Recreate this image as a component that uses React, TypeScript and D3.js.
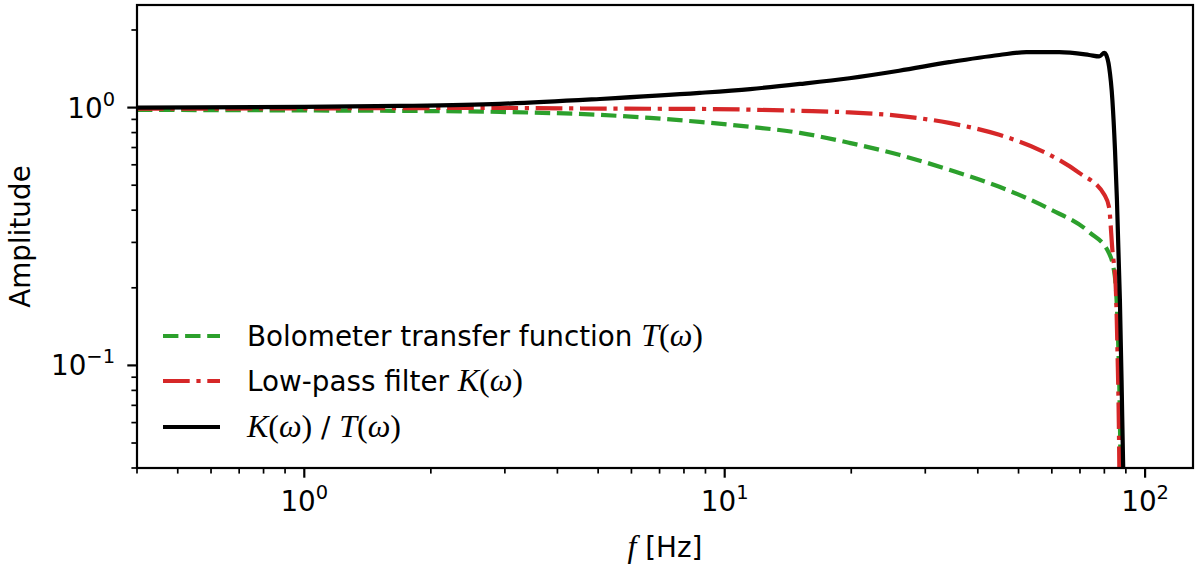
import * as d3 from "d3";
import * as React from "react";

// values (frequency in Hz, amplitude)
const freqT = [0.4, 1, 1.69, 2.92, 5.05, 6.64, 8.72, 11.5, 15.1, 19.8, 26.0, 34.2, 45.0, 59.1, 73.6, 82.1, 83.6, 85.2, 86.2, 87.0, 87.6];
const ampT = [0.98, 0.975, 0.971, 0.962, 0.937, 0.912, 0.88, 0.842, 0.798, 0.73, 0.656, 0.574, 0.493, 0.405, 0.329, 0.272, 0.25, 0.2, 0.13, 0.07, 0.03];

const freqK = [0.4, 1, 2.92, 5.05, 8.72, 15.1, 19.8, 26.0, 34.2, 45.0, 56.0, 69.7, 80.0, 82.1, 83.6, 85.2, 86.0, 86.6, 87.0];
const ampK = [0.99, 0.993, 0.997, 0.991, 0.988, 0.971, 0.958, 0.929, 0.872, 0.784, 0.686, 0.558, 0.459, 0.41, 0.28, 0.197, 0.11, 0.06, 0.03];

const freqR = [0.4, 1, 1.69, 2.92, 5.05, 8.72, 11.5, 15.1, 19.8, 26.0, 34.2, 45.0, 52.2, 62.5, 73.6, 77.8, 80.0, 80.8, 82.1, 83.6, 84.8, 85.7, 87.1, 87.9, 88.7, 89.2];
const ampR = [1.0, 1.006, 1.015, 1.034, 1.08, 1.14, 1.18, 1.235, 1.3, 1.39, 1.5, 1.6, 1.64, 1.64, 1.6, 1.58, 1.63, 1.6, 1.44, 1.07, 0.686, 0.44, 0.18, 0.088, 0.04, 0.03];

const xMajor = [1, 10, 100];
const xMinor = [0.4, 0.5, 0.6, 0.7, 0.8, 0.9, 2, 3, 4, 5, 6, 7, 8, 9, 20, 30, 40, 50, 60, 70, 80, 90];
const yMajor = [0.1, 1];
const yMinor = [0.04, 0.05, 0.06, 0.07, 0.08, 0.09, 0.2, 0.3, 0.4, 0.5, 0.6, 0.7, 0.8, 0.9, 2];
const xExp = ["0", "1", "2"];
const yExp = ["\u22121", "0"];

const legendLabels = ["Bolometer transfer function ", "Low-pass filter ", ""];

const width = 1200;
const height = 567;
const left = 137;
const right = 1193;
const top = 5;
const bottom = 468;

const sans = "DejaVu Sans";
const serif = "Liberation Serif";
const fs = 27.8;
const mfs = 32;

export default function App() {
  const x = d3.scaleLog([0.4, 130], [left, right]);
  const y = d3.scaleLog([0.04, 2.5], [bottom, top]);

  const line = (fr: number[], am: number[]) =>
    d3
      .line<number>()
      .x((_, i) => x(fr[i]))
      .y((d) => y(d))
      .curve(d3.curveMonotoneX)(am) ?? "";

  const series = [
    { d: line(freqT, ampT), color: "#2ca02c", dash: "15.4 6.7" },
    { d: line(freqK, ampK), color: "#d62728", dash: "26.7 6.7 4.2 6.7" },
    { d: line(freqR, ampR), color: "#000000", dash: "none" },
  ];

  const legendY = [336, 381, 427];

  const math = (v: string) => (
    <>
      <tspan fontFamily={serif} fontSize={mfs} fontStyle="italic">{v}</tspan>
      <tspan fontFamily={serif} fontSize={mfs}>(</tspan>
      <tspan fontFamily={serif} fontSize={mfs} fontStyle="italic">ω</tspan>
      <tspan fontFamily={serif} fontSize={mfs}>)</tspan>
    </>
  );

  return (
    <svg
      width={width}
      height={height}
      viewBox={`0 0 ${width} ${height}`}
      style={{ position: "absolute", left: 0, top: 0, background: "#fff" }}
      fontFamily={sans}
    >
      <defs>
        <clipPath id="plot">
          <rect x={left} y={top} width={right - left} height={bottom - top} />
        </clipPath>
      </defs>

      <g clipPath="url(#plot)">
        {series.map((s, i) => (
          <path
            key={i}
            d={s.d}
            fill="none"
            stroke={s.color}
            strokeWidth={4.2}
            strokeDasharray={s.dash}
            strokeLinejoin="round"
          />
        ))}
      </g>

      {/* frame */}
      <rect x={left} y={top} width={right - left} height={bottom - top} fill="none" stroke="#000" strokeWidth={2.2} />

      {/* x ticks */}
      {xMajor.map((t, i) => (
        <g key={"xM" + t}>
          <line x1={x(t)} x2={x(t)} y1={bottom} y2={bottom + 9.7} stroke="#000" strokeWidth={2.2} />
          <text x={x(t)} y={511} textAnchor="middle" fontSize={fs}>
            10<tspan fontSize={fs * 0.7} dy={-12}>{xExp[i]}</tspan>
          </text>
        </g>
      ))}
      {xMinor.map((t) => (
        <line key={"xm" + t} x1={x(t)} x2={x(t)} y1={bottom} y2={bottom + 5.6} stroke="#000" strokeWidth={1.7} />
      ))}

      {/* y ticks */}
      {yMajor.map((t, i) => (
        <g key={"yM" + t}>
          <line x1={left - 9.7} x2={left} y1={y(t)} y2={y(t)} stroke="#000" strokeWidth={2.2} />
          <text x={left - 22} y={y(t) + 10} textAnchor="end" fontSize={fs}>
            10<tspan fontSize={fs * 0.7} dy={-12}>{yExp[i]}</tspan>
          </text>
        </g>
      ))}
      {yMinor.map((t) => (
        <line key={"ym" + t} x1={left - 5.6} x2={left} y1={y(t)} y2={y(t)} stroke="#000" strokeWidth={1.7} />
      ))}

      {/* axis labels */}
      <text x={(left + right) / 2} y={557} textAnchor="middle" fontSize={fs}>
        <tspan fontFamily={serif} fontSize={mfs} fontStyle="italic">f</tspan> [Hz]
      </text>
      <text
        transform={`translate(30, ${(top + bottom) / 2}) rotate(-90)`}
        textAnchor="middle"
        fontSize={fs}
      >
        Amplitude
      </text>

      {/* legend */}
      {series.map((s, i) => (
        <g key={"lg" + i}>
          <line
            x1={163}
            x2={220}
            y1={legendY[i]}
            y2={legendY[i]}
            stroke={s.color}
            strokeWidth={4.2}
            strokeDasharray={s.dash}
          />
          <text x={247} y={legendY[i] + 10} fontSize={fs}>
            {legendLabels[i]}
            {i === 0 && math("T")}
            {i === 1 && math("K")}
            {i === 2 && (
              <>
                {math("K")}
                <tspan> / </tspan>
                {math("T")}
              </>
            )}
          </text>
        </g>
      ))}
    </svg>
  );
}
